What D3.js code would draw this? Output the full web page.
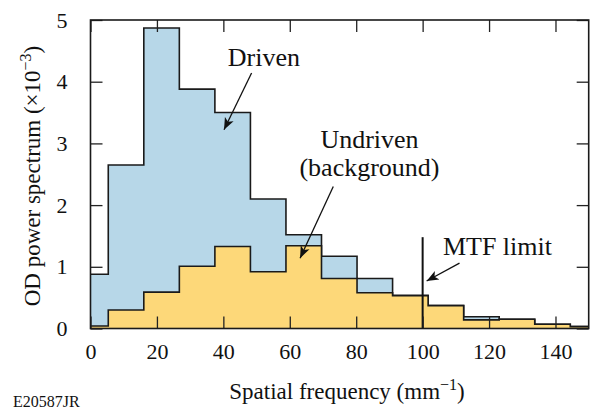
<!DOCTYPE html>
<html>
<head>
<meta charset="utf-8">
<script src="https://cdn.jsdelivr.net/npm/d3@7"></script>
<style>
  body { margin: 0; background: #fff; }
  svg text { font-family: "Liberation Serif", "DejaVu Serif", serif; fill: #111; }
</style>
</head>
<body>
<div id="chart"></div>
<script>
// bin centres (mm^-1) and the two spectra (x10^-3)
var freq = [0, 10.7, 21.4, 32.1, 42.8, 53.5, 64.2, 74.9, 85.6, 96.3, 107, 117.7, 128.4, 139.1, 149.8];
var driven   = [0.88, 2.65, 4.87, 3.88, 3.50, 2.10, 1.52, 1.17, 0.81, 0.54, 0.37, 0.19, 0.15, 0.07, 0.03];
var undriven = [0.04, 0.30, 0.59, 1.01, 1.33, 0.92, 1.34, 0.81, 0.58, 0.53, 0.37, 0.14, 0.15, 0.07, 0.03];
var xTicks = [0, 20, 40, 60, 80, 100, 120, 140];
var yTicks = [0, 1, 2, 3, 4, 5];
var mtfLimit = 100;
var mtfTop = 1.48;

var width = 591, height = 409;
var margin = {top: 20, right: 2.3, bottom: 80.5, left: 90.5};
var w = width - margin.left - margin.right;
var h = height - margin.top - margin.bottom;

var svg = d3.select("#chart").append("svg")
            .attr("width", width)
            .attr("height", height);

var defs = svg.append("defs");
defs.append("clipPath").attr("id", "plotclip")
    .append("rect").attr("width", w).attr("height", h);
defs.append("marker")
    .attr("id", "arrow")
    .attr("viewBox", "0 0 10 10")
    .attr("refX", 10).attr("refY", 5)
    .attr("markerWidth", 12).attr("markerHeight", 12)
    .attr("markerUnits", "userSpaceOnUse")
    .attr("orient", "auto")
    .append("path").attr("d", "M0,1 L10,5 L0,9 L2.5,5 Z").style("fill", "#111");

var g = svg.append("g").attr("transform", "translate(" + margin.left + "," + margin.top + ")");

var x = d3.scaleLinear().domain([0, 150]).range([0, w]);
var y = d3.scaleLinear().domain([0, 5]).range([h, 0]);

var plot = g.append("g").attr("clip-path", "url(#plotclip)");

function drawSeries(values, fill) {
  var pts = freq.map(function (f, i) { return [f, values[i]]; });
  var area = d3.area().curve(d3.curveStep)
               .x(function (d) { return x(d[0]); })
               .y0(y(0))
               .y1(function (d) { return y(d[1]); });
  var line = d3.line().curve(d3.curveStep)
               .x(function (d) { return x(d[0]); })
               .y(function (d) { return y(d[1]); });
  plot.append("path").datum(pts).attr("d", area).style("fill", fill);
  plot.append("path").datum(pts).attr("d", line)
      .style("fill", "none").style("stroke", "#1a1a1a").style("stroke-width", 1.6);
}
drawSeries(driven, "#b7d7e8");
drawSeries(undriven, "#fdd879");

// MTF limit line
g.append("line")
 .attr("x1", x(mtfLimit)).attr("x2", x(mtfLimit))
 .attr("y1", y(0)).attr("y2", y(mtfTop))
 .style("stroke", "#111").style("stroke-width", 2);

// axes, ticks pointing inward on all four sides
var axBottom = g.append("g").attr("transform", "translate(0," + h + ")")
              .call(d3.axisBottom(x).tickValues(xTicks).tickSizeInner(-12).tickSizeOuter(0).tickPadding(15));
var axTop = g.append("g")
           .call(d3.axisTop(x).tickValues(xTicks).tickSizeInner(-12).tickSizeOuter(0).tickFormat(""));
var axLeft = g.append("g")
            .call(d3.axisLeft(y).tickValues(yTicks).tickSizeInner(-12).tickSizeOuter(0).tickPadding(23)
                    .tickFormat(d3.format("d")));
var axRight = g.append("g").attr("transform", "translate(" + w + ",0)")
             .call(d3.axisRight(y).tickValues(yTicks).tickSizeInner(-12).tickSizeOuter(0).tickFormat(""));

[axBottom, axTop, axLeft, axRight].forEach(function (a) {
  a.select(".domain").remove();
  a.selectAll(".tick line").style("stroke", "#222").style("stroke-width", 1.3);
  a.selectAll(".tick text").style("font-size", "22px").style("font-family", "Liberation Serif").style("fill", "#111");
});

g.append("rect").attr("width", w).attr("height", h)
 .style("fill", "none").style("stroke", "#1a1a1a").style("stroke-width", 1.6);

// axis titles
var xt = svg.append("text")
            .attr("x", 347).attr("y", 399)
            .attr("text-anchor", "middle")
            .style("font-size", "23px");
xt.append("tspan").text("Spatial frequency (mm");
xt.append("tspan").attr("dy", -9).style("font-size", "16px").text("\u22121");
xt.append("tspan").attr("dy", 9).text(")");

var yt = svg.append("text")
            .attr("transform", "translate(40,176) rotate(-90)")
            .attr("text-anchor", "middle")
            .style("font-size", "23px");
yt.append("tspan").text("OD power spectrum (\u00d710");
yt.append("tspan").attr("dy", -9).style("font-size", "16px").text("\u22123");
yt.append("tspan").attr("dy", 9).text(")");

svg.append("text").attr("x", 13).attr("y", 407)
   .style("font-size", "16px").text("E20587JR");

// annotations (data units)
function note(lines, tx, ty, anchor, ax1, ay1, ax2, ay2) {
  var t = g.append("text").attr("text-anchor", anchor).style("font-size", "26px");
  lines.forEach(function (s, i) {
    t.append("tspan").attr("x", x(tx)).attr("y", y(ty) + i * 28).text(s);
  });
  g.append("line")
   .attr("x1", x(ax1)).attr("y1", y(ay1))
   .attr("x2", x(ax2)).attr("y2", y(ay2))
   .style("stroke", "#111").style("stroke-width", 1.3)
   .attr("marker-end", "url(#arrow)");
}
note(["Driven"], 52.2, 4.25, "middle", 48.5, 4.14, 40.2, 3.22);
note(["Undriven", "(background)"], 84.0, 2.93, "middle", 73.1, 2.30, 63.1, 1.14);
note(["MTF limit"], 106.1, 1.19, "start", 111.1, 1.06, 101.2, 0.77);
</script>
</body>
</html>
